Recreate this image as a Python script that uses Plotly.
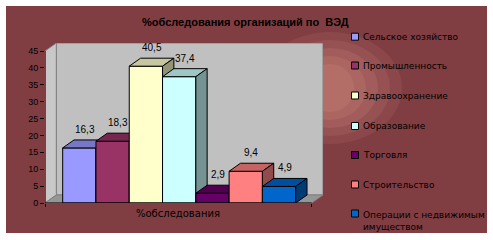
import plotly.graph_objects as go

# ---------------- data ----------------
categories = ["Сельское хозяйство", "Промышленность", "Здравоохранение", "Образование",
              "Торговля", "Строительство", "Операции с недвижимым имуществом"]
legend_text = ["Сельское хозяйство", "Промышленность", "Здравоохранение", "Образование",
               "Торговля", "Строительство", "Операции с недвижимым<br>имуществом"]
values = [16.3, 18.3, 40.5, 37.4, 2.9, 9.4, 4.9]
value_labels = ["16,3", "18,3", "40,5", "37,4", "2,9", "9,4", "4,9"]
colors = ["#9999FF", "#993366", "#FFFFCC", "#CCFFFF", "#660066", "#FF8080", "#0066CC"]
y_ticks = [0, 5, 10, 15, 20, 25, 30, 35, 40, 45]
x_title = "%обследования"
chart_title = "%обследования организаций по  ВЭД"

# ---------------- geometry ----------------
W, H = 493, 240
L, R, T, B = 45, 170, 43, 37
PW, PH = W - L - R, H - T - B
DX, DY = 0.34, 2.37          # 3-D depth offset in data units
X0, X1 = -1.031, 6.98        # front floor edges
YMAX = 45
XR = [X0, X1 + DX]
YR = [0, YMAX + DY]


def shade(hexc, k):
    h = hexc.lstrip("#")
    r, g, b = (int(h[i:i + 2], 16) for i in (0, 2, 4))
    return "#%02x%02x%02x" % (int(r * k), int(g * k), int(b * k))


def px_to_paper(px, py):
    return (px - L) / PW, (H - B - py) / PH


fig = go.Figure()


def poly(xs, ys, fill, line="#000000", lw=1):
    fig.add_trace(go.Scatter(x=xs + [xs[0]], y=ys + [ys[0]], mode="lines", fill="toself",
                             fillcolor=fill, line=dict(color=line, width=lw),
                             hoverinfo="skip", showlegend=False, cliponaxis=False))


# walls and floor
poly([X0 + DX, X1 + DX, X1 + DX, X0 + DX], [DY, DY, YMAX + DY, YMAX + DY], "#c0c0c0", "#808080")
poly([X0, X0 + DX, X0 + DX, X0], [0, DY, YMAX + DY, YMAX], "#c8c8c8", "#808080")
poly([X0, X1, X1 + DX, X0 + DX], [0, 0, DY, DY], "#969696", "#808080")

# bars (front, top, side), painted left to right
for i, (v, c) in enumerate(zip(values, colors)):
    a, b = i - 0.5, i + 0.5
    poly([a, b, b, a], [0, 0, v, v], c)
    poly([a, b, b + DX, a + DX], [v, v, v + DY, v + DY], shade(c, 0.78))
    poly([b, b + DX, b + DX, b], [0, DY, v + DY, v], shade(c, 0.58))

# axis lines
fig.add_trace(go.Scatter(x=[X0, X0, X1], y=[YMAX, 0, 0], mode="lines",
                         line=dict(color="#000000", width=1), hoverinfo="skip",
                         showlegend=False, cliponaxis=False))

annotations = []
for i, (v, t) in enumerate(zip(values, value_labels)):
    annotations.append(dict(x=i + DX / 2, y=v + DY, text=t, showarrow=False, yanchor="bottom",
                            yshift=3, font=dict(family="Arial", size=10, color="#000000")))
annotations.append(dict(x=(X0 + X1) / 2, y=0, text=x_title, showarrow=False, yanchor="top",
                        yshift=-3, font=dict(family="DejaVu Sans", size=10, color="#000000")))
tx, ty = px_to_paper(246, 22)
annotations.append(dict(x=tx, y=ty, xref="paper", yref="paper", text="<b>%s</b>" % chart_title,
                        xanchor="center", yanchor="middle",
                        showarrow=False, font=dict(family="Arial", size=11, color="#000000")))

shapes = []
# chart background
bx0, by0 = px_to_paper(6, 233)
bx1, by1 = px_to_paper(487, 6)
shapes.append(dict(type="rect", xref="paper", yref="paper", x0=bx0, y0=by0, x1=bx1, y1=by1,
                   fillcolor="#803e42", line=dict(width=0), layer="below"))
for (rx, ry, op) in [(72, 56, 0.10), (60, 48, 0.12), (48, 40, 0.14), (36, 32, 0.14), (24, 24, 0.14)]:
    ex0, ey0 = px_to_paper(330 - rx, 88 + ry)
    ex1, ey1 = px_to_paper(330 + rx, 88 - ry)
    shapes.append(dict(type="circle", xref="paper", yref="paper", x0=ex0, y0=ey0, x1=ex1, y1=ey1,
                       fillcolor="#e8a090", opacity=op, line=dict(width=0), layer="below"))

# legend
leg_y = [36.7, 65.5, 95.5, 126, 155, 184.5, 213.5]
for j, (txt, c) in enumerate(zip(legend_text, colors)):
    yy = leg_y[j]
    sx0, sy0 = px_to_paper(351.5, yy + 3.5)
    sx1, sy1 = px_to_paper(358.5, yy - 3.5)
    shapes.append(dict(type="rect", xref="paper", yref="paper", x0=sx0, y0=sy0, x1=sx1, y1=sy1,
                       fillcolor=c, line=dict(color="#000000", width=1)))
    ax, ay = px_to_paper(360.5, yy)
    annotations.append(dict(x=ax, y=ay, xref="paper", yref="paper", text=txt, showarrow=False,
                            xanchor="left", yanchor="top" if "<br>" in txt else "middle",
                            yshift=6 if "<br>" in txt else 0, align="left",
                            font=dict(family="DejaVu Sans", size=9, color="#000000")))

fig.update_layout(
    width=W, height=H, margin=dict(l=L, r=R, t=T, b=B, pad=0),
    paper_bgcolor="#ffffff", plot_bgcolor="rgba(0,0,0,0)",
    showlegend=False, shapes=shapes, annotations=annotations,
    xaxis=dict(range=XR, showgrid=False, zeroline=False, showline=False,
               tickvals=[X0, X1], ticktext=["", ""], ticks="outside", ticklen=3,
               tickcolor="#000000", fixedrange=True),
    yaxis=dict(range=YR, showgrid=False, zeroline=False, showline=False,
               tickvals=y_ticks, ticks="outside", ticklen=4, tickcolor="#000000",
               tickfont=dict(family="Arial", size=9, color="#000000"), fixedrange=True),
)

fig.write_html("out.html")
